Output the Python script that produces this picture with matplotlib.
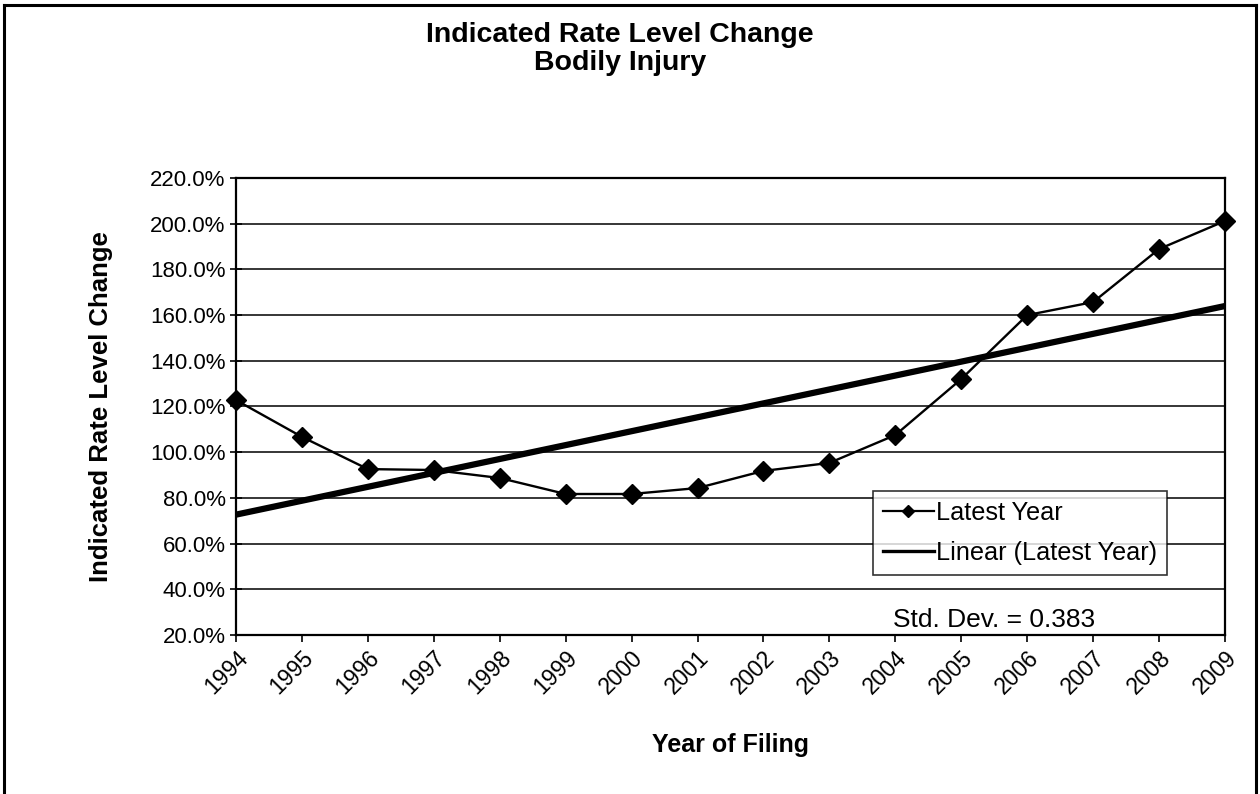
import numpy as np
import matplotlib.pyplot as plt
from matplotlib.lines import Line2D
from matplotlib.ticker import FuncFormatter

plt.rcParams['font.family'] = ['Liberation Sans', 'DejaVu Sans']

years = [1994, 1995, 1996, 1997, 1998, 1999, 2000, 2001,
         2002, 2003, 2004, 2005, 2006, 2007, 2008, 2009]
rate_change = [122.8, 106.7, 92.6, 92.2, 88.7, 81.7, 81.7, 84.3,
               91.8, 95.3, 107.5, 132.0, 160.0, 165.7, 188.9, 201.2]
y_ticks = [20, 40, 60, 80, 100, 120, 140, 160, 180, 200, 220]
std_dev_label = "Std. Dev. = 0.383"

# linear trend through the yearly points
x = np.arange(len(years))
slope, intercept = np.polyfit(x, rate_change, 1)
trend = slope * x + intercept

fig = plt.figure(figsize=(12.6, 7.94), dpi=100)
ax = fig.add_axes([0.1873, 0.2003, 0.9722 - 0.1873, 0.7758 - 0.2003])

# outer chart frame (bottom edge falls off the page)
fig.add_artist(Line2D([0.003, 0.003], [0.0, 0.994], color='black', lw=2.2,
                      transform=fig.transFigure))
fig.add_artist(Line2D([0.003, 0.997], [0.994, 0.994], color='black', lw=2.2,
                      transform=fig.transFigure))
fig.add_artist(Line2D([0.997, 0.997], [0.0, 0.994], color='black', lw=2.2,
                      transform=fig.transFigure))

ax.set_xlim(0, len(years) - 1)
ax.set_ylim(y_ticks[0], y_ticks[-1])
ax.set_yticks(y_ticks)
ax.yaxis.set_major_formatter(FuncFormatter(lambda v, p: f"{v:.1f}%"))
ax.set_xticks(x)
ax.set_xticklabels([str(y) for y in years], rotation=45, ha='right',
                   rotation_mode='anchor')
ax.grid(axis='y', color='black', lw=1.1)
ax.set_axisbelow(True)

for s in ax.spines.values():
    s.set_linewidth(1.6)
ax.tick_params(axis='y', direction='inout', length=9, width=1.2,
               labelsize=16, pad=3)
ax.tick_params(axis='x', direction='out', length=5, width=1.2,
               labelsize=16.5, pad=3)

ax.plot(x, rate_change, color='black', lw=1.7, marker='D',
        markersize=10, clip_on=False, zorder=4)
ax.plot(x, trend, color='black', lw=4.5, zorder=3, solid_capstyle='butt')

leg = ax.legend(
    handles=[
        Line2D([], [], color='black', lw=1.6, marker='D', markersize=6),
        Line2D([], [], color='black', lw=2.4)],
    labels=['Latest Year', 'Linear (Latest Year)'],
    loc='upper left', bbox_to_anchor=(0.644, 0.315), fontsize=18.2,
    frameon=True, fancybox=False, borderpad=0.4, handlelength=2.0,
    handletextpad=0.1, labelspacing=0.62, borderaxespad=0)
leg.get_frame().set_edgecolor('black')
leg.get_frame().set_linewidth(1.2)

ax.text(0.664, 0.017, std_dev_label, transform=ax.transAxes, fontsize=19,
        ha='left', va='baseline')

ax.set_ylabel('Indicated Rate Level Change', fontsize=18.5,
              fontweight='bold', labelpad=27)
ax.set_xlabel('Year of Filing', fontsize=18, fontweight='bold',
              labelpad=25)

fig.text(0.492, 0.956, 'Indicated Rate Level Change', fontsize=20.5,
         fontweight='bold', ha='center', va='center')
fig.text(0.492, 0.921, 'Bodily Injury', fontsize=20.5,
         fontweight='bold', ha='center', va='center')

fig.savefig('out.png', dpi=100, facecolor='white')
